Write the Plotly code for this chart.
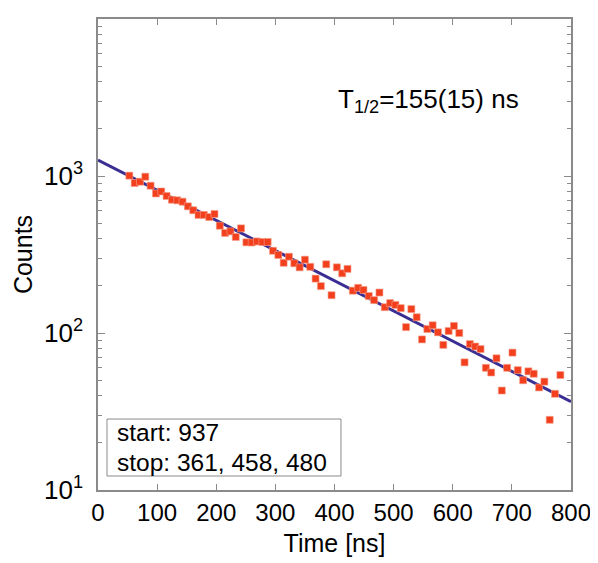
import plotly.graph_objects as go
import numpy as np

# Data (time in ns, counts)
time_ns = [53, 62, 71, 80, 89, 98, 107, 116, 125, 134,
           143, 152, 161, 170, 179, 188, 197, 206, 215, 224,
           233, 242, 251, 260, 269, 278, 287, 296, 305, 314,
           323, 332, 341, 350, 359, 368, 377, 386, 395, 404,
           413, 422, 431, 440, 449, 458, 467, 476, 485, 494,
           503, 512, 521, 530, 539, 548, 557, 566, 575, 584,
           593, 602, 611, 620, 629, 638, 647, 656, 665, 674,
           683, 692, 701, 710, 719, 728, 737, 746, 755, 764,
           773, 782]
counts = [1005, 902, 920, 990, 867, 774, 797, 746, 706, 700,
          686, 641, 605, 565, 565, 548, 573, 482, 434, 444,
          409, 464, 378, 377, 383, 380, 380, 334, 314, 280,
          306, 278, 262, 293, 264, 222, 199, 274, 174, 262,
          240, 256, 186, 194, 188, 172, 162, 181, 146, 155,
          151, 144, 109, 142, 126, 91, 106, 112, 101, 84,
          103, 111, 100, 65, 85, 82, 79, 60, 56, 69,
          43, 60, 75, 58, 50, 57, 55, 45, 49, 28,
          41, 54]

y_tickvals = [10, 100, 1000, 10000]
y_ticktext = ["10<sup>1</sup>", "10<sup>2</sup>", "10<sup>3</sup>", "10<sup>4</sup>"]
x_tickvals = [0, 100, 200, 300, 400, 500, 600, 700, 800]

# Fit parameters
fit_A0 = 1265.0
fit_T_half = 156.5
fit_range = [0, 800]

info_lines = ["start: 937", "stop: 361, 458, 480"]
halflife_text = "T<sub>1/2</sub>=155(15) ns"

fit_x = np.array(fit_range, dtype=float)
fit_y = fit_A0 * 2.0 ** (-fit_x / fit_T_half)

FONT = "Liberation Sans, Arial, Helvetica, sans-serif"
AX_COLOR = "#8a8a8a"
EPS = 1e-6

fig = go.Figure()
fig.add_trace(go.Scatter(
    x=fit_x, y=fit_y, mode="lines",
    line=dict(color="#3a2e93", width=3),
    showlegend=False, hoverinfo="skip"))
fig.add_trace(go.Scatter(
    x=time_ns, y=counts, mode="markers",
    marker=dict(symbol="square", size=7, color="#f23f1d",
                line=dict(width=0.6, color="#f7a08a")),
    showlegend=False))

# page has an 8px body margin: compensate so the plot area lands at 98..571 x 19..490
fig.update_layout(
    width=590, height=555,
    margin=dict(l=90, r=27, t=11, b=73),
    paper_bgcolor="white", plot_bgcolor="white",
    font=dict(family=FONT, size=24, color="black"),
)
fig.update_xaxes(
    range=[0 - 0.001, 800 + 0.001], tickvals=x_tickvals,
    showgrid=False, zeroline=False, automargin=False,
    showline=True, linecolor=AX_COLOR, linewidth=1.5, mirror="ticks",
    ticks="inside", ticklen=6, tickcolor=AX_COLOR,
    tickfont=dict(size=24),
    title=dict(text="Time [ns]", font=dict(size=25), standoff=10),
)
fig.update_yaxes(
    type="log", range=[1 - EPS, 4 + EPS],
    tickvals=y_tickvals, ticktext=y_ticktext,
    showgrid=False, zeroline=False, automargin=False,
    showline=True, linecolor=AX_COLOR, linewidth=1.5, mirror="ticks",
    ticks="inside", ticklen=7, tickcolor=AX_COLOR,
    minor=dict(ticks="inside", ticklen=4, tickcolor=AX_COLOR, showgrid=False,
               dtick="D1"),
    tickfont=dict(size=26), ticklabelstandoff=8,
    title=dict(text="Counts", font=dict(size=25), standoff=4),
)

fig.add_annotation(
    xref="paper", yref="paper", x=0.698, y=0.828,
    text=halflife_text, showarrow=False,
    font=dict(size=26, family=FONT, color="black"),
    xanchor="center", yanchor="middle")

# info box
fig.add_shape(type="rect", xref="paper", yref="paper",
              x0=0.019, x1=0.5137, y0=0.0297, y1=0.1507,
              line=dict(color=AX_COLOR, width=1), fillcolor="white", layer="above")
for txt, yy in zip(info_lines, [0.1231, 0.0594]):
    fig.add_annotation(
        xref="paper", yref="paper", x=0.0374, y=yy,
        text=txt, showarrow=False, align="left",
        font=dict(size=24.5, family=FONT, color="black"),
        xanchor="left", yanchor="middle", borderpad=0)

fig.write_html("out.html")
